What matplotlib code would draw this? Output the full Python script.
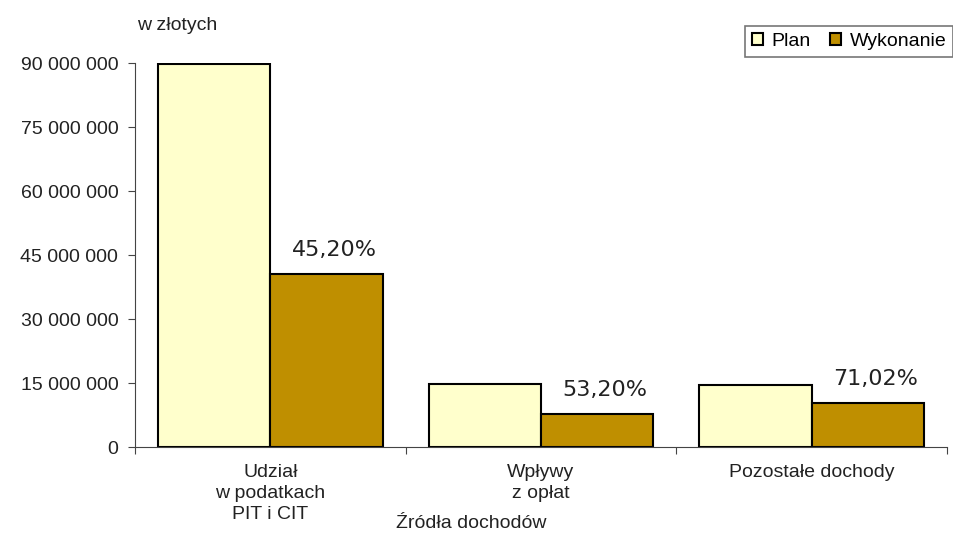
import matplotlib
matplotlib.use("Agg")
import matplotlib.pyplot as plt
from matplotlib.patches import Patch
import numpy as np

plt.rc("font", family="Liberation Sans")

# dane
kategorie = ["Udział\nw podatkach\nPIT i CIT", "Wpływy\nz opłat", "Pozostałe dochody"]
plan = [89_800_000, 14_900_000, 14_600_000]
wykonanie = [40_590_000, 7_930_000, 10_370_000]
procent = ["45,20%", "53,20%", "71,02%"]
y_ticks = [0, 15_000_000, 30_000_000, 45_000_000, 60_000_000, 75_000_000, 90_000_000]

kolor_plan = "#FFFFCC"
kolor_wyk = "#BF8F00"
kolor_tekst = "#222222"

fig = plt.figure(figsize=(9.54, 5.35), dpi=100)
ax = fig.add_axes([0.1415, 0.1636, 0.8512, 0.7181])

x = np.arange(len(kategorie)) + 0.5
w = 0.415
ax.bar(x - w / 2, plan, width=w, color=kolor_plan, edgecolor="black", linewidth=1.5, label="Plan")
ax.bar(x + w / 2, wykonanie, width=w, color=kolor_wyk, edgecolor="black", linewidth=1.5, label="Wykonanie")

# etykiety procentowe nad wykonaniem
for xi, v, p in zip(x, wykonanie, procent):
    ax.text(xi + w / 2 + 0.03, v + 3_300_000, p, ha="center", va="bottom",
            fontsize=16, family="DejaVu Sans", color=kolor_tekst)

ax.set_xlim(0, 3)
ax.set_ylim(0, 90_000_000)
ax.set_yticks(y_ticks)
ax.set_yticklabels([f"{t:,}".replace(",", " ") for t in y_ticks], fontsize=14, color=kolor_tekst)
ax.set_xticks([0, 1, 2, 3])
ax.set_xticklabels([])
ax.set_xticks(x, minor=True)
ax.set_xticklabels(kategorie, minor=True, fontsize=14, color=kolor_tekst, linespacing=1.3)
ax.tick_params(axis="x", which="minor", length=0, pad=12)
ax.tick_params(axis="x", which="major", length=5, direction="out", color="#444444")
ax.tick_params(axis="y", length=5, direction="out", color="#444444", pad=7)

for s in ["top", "right"]:
    ax.spines[s].set_visible(False)
ax.spines["left"].set_color("#444444")
ax.spines["bottom"].set_color("#444444")

fig.text(177 / 954, 1 - 25 / 535, "w złotych", ha="center", va="center", fontsize=14, color=kolor_tekst)
fig.text(471 / 954, 1 - 524 / 535, "Źródła dochodów", ha="center", va="center", fontsize=14, color=kolor_tekst)

uchwyty = [Patch(facecolor=kolor_plan, edgecolor="black", linewidth=1.5, label="Plan"),
           Patch(facecolor=kolor_wyk, edgecolor="black", linewidth=1.5, label="Wykonanie")]
leg = fig.legend(handles=uchwyty, loc="upper right", bbox_to_anchor=(0.999, 0.951), ncol=2,
                 fontsize=14, frameon=True, fancybox=False, handlelength=0.55, handleheight=0.55,
                 handletextpad=0.45, columnspacing=1.0, borderpad=0.35, borderaxespad=0)
leg.get_frame().set_edgecolor("#555555")
leg.get_frame().set_linewidth(1.2)

fig.savefig("out.png", dpi=100)
plt.close()
